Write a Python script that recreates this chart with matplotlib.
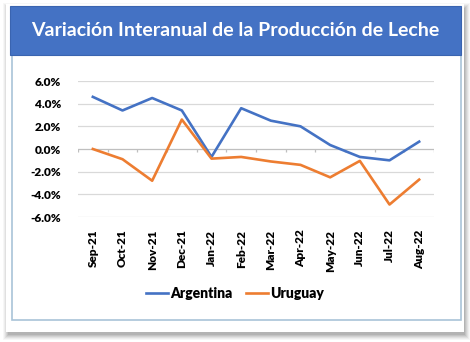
import matplotlib
matplotlib.use("Agg")
import matplotlib.pyplot as plt
from matplotlib.patches import Rectangle
from matplotlib.lines import Line2D

# Data: year-on-year change in milk production (%)
months = ["Sep-21", "Oct-21", "Nov-21", "Dec-21", "Jan-22", "Feb-22",
          "Mar-22", "Apr-22", "May-22", "Jun-22", "Jul-22", "Aug-22"]
argentina = [4.6, 3.4, 4.5, 3.4, -0.7, 3.6, 2.5, 2.0, 0.35, -0.7, -1.0, 0.65]
uruguay = [0.0, -0.9, -2.8, 2.6, -0.85, -0.7, -1.1, -1.4, -2.5, -1.05, -4.9, -2.7]
yticks = [-6, -4, -2, 0, 2, 4, 6]

W, H = 470, 342
fig = plt.figure(figsize=(W / 100, H / 100), dpi=100)
fig.patch.set_facecolor("white")

FONT = ["Lato", "DejaVu Sans"]
BLUE = "#4472C4"
ORANGE = "#ED7D31"


def box(x0, y0, x1, y1):
    """Pixel box (top-left origin) -> figure-fraction (x, y, w, h)."""
    return x0 / W, 1 - y1 / H, (x1 - x0) / W, (y1 - y0) / H


# soft drop shadow under the card, heavier toward the bottom-right
for i, a in enumerate([0.03, 0.04, 0.05, 0.06, 0.07, 0.08]):
    g = 6 - i
    x, y, w, h = box(6 - g + 3, 4 - g + 5, 464 + g, 332 + g + 2)
    fig.add_artist(Rectangle((x, y), w, h, transform=fig.transFigure,
                             facecolor="#000000", alpha=a, edgecolor="none",
                             zorder=0))
x, y, w, h = box(6, 4, 464, 332)
fig.add_artist(Rectangle((x, y), w, h, transform=fig.transFigure,
                         facecolor="white", edgecolor="none", zorder=1))

# inner panel with light blue border
x, y, w, h = box(12, 55, 461, 320)
fig.add_artist(Rectangle((x, y), w, h, transform=fig.transFigure,
                         facecolor="white", edgecolor="#A9C4D8", lw=1.2,
                         zorder=2))

# title bar
x, y, w, h = box(10, 6, 461, 55)
fig.add_artist(Rectangle((x, y), w, h, transform=fig.transFigure,
                         facecolor=BLUE, edgecolor="#3A64B0", lw=0.8,
                         zorder=3))
fig.text(235 / W, 1 - 31 / H, "Variación Interanual de la Producción de Leche",
         ha="center", va="center", color="white", fontsize=14,
         fontweight="bold", family=FONT, zorder=4)

# chart axes
ax = fig.add_axes(box(78, 81, 434, 217), zorder=5)
ax.set_facecolor("none")
xs = list(range(len(months)))
ax.set_xlim(-0.5, len(months) - 0.5)
ax.set_ylim(-6, 6)

for t in yticks:
    if t != 0:
        ax.axhline(t, color="#D9D9D9", lw=0.9, zorder=1)
# category axis drawn at zero with boundary tick marks
ax.axhline(0, color="#BFBFBF", lw=0.9, zorder=1)
for b in range(len(months) + 1):
    ax.plot([b - 0.5, b - 0.5], [0, -0.3], color="#BFBFBF", lw=0.9,
            zorder=1, solid_capstyle="butt")

ax.plot(xs, argentina, color=BLUE, lw=1.9, zorder=3, label="Argentina")
ax.plot(xs, uruguay, color=ORANGE, lw=1.9, zorder=3, label="Uruguay")

for s in ax.spines.values():
    s.set_visible(False)
ax.set_yticks(yticks)
ax.set_yticklabels([f"{v:.1f}%" for v in yticks], fontsize=8.5,
                   fontweight="heavy", family=FONT)
ax.set_xticks(xs)
ax.set_xticklabels(months, rotation=90, fontsize=8.5, fontweight="heavy",
                   family=FONT, ha="center", va="top")
ax.tick_params(axis="y", length=0, pad=12)
ax.tick_params(axis="x", length=0, pad=9)

handles = [Line2D([], [], color=BLUE, lw=1.9),
           Line2D([], [], color=ORANGE, lw=1.9)]
fig.legend(handles, ["Argentina", "Uruguay"], loc="center",
           bbox_to_anchor=(235 / W, 1 - 293 / H), ncol=2, frameon=False,
           prop={"family": FONT, "weight": "heavy", "size": 10},
           handlelength=1.6, handletextpad=0.15, columnspacing=1.0)

fig.savefig("out.png", dpi=100, facecolor="white")
